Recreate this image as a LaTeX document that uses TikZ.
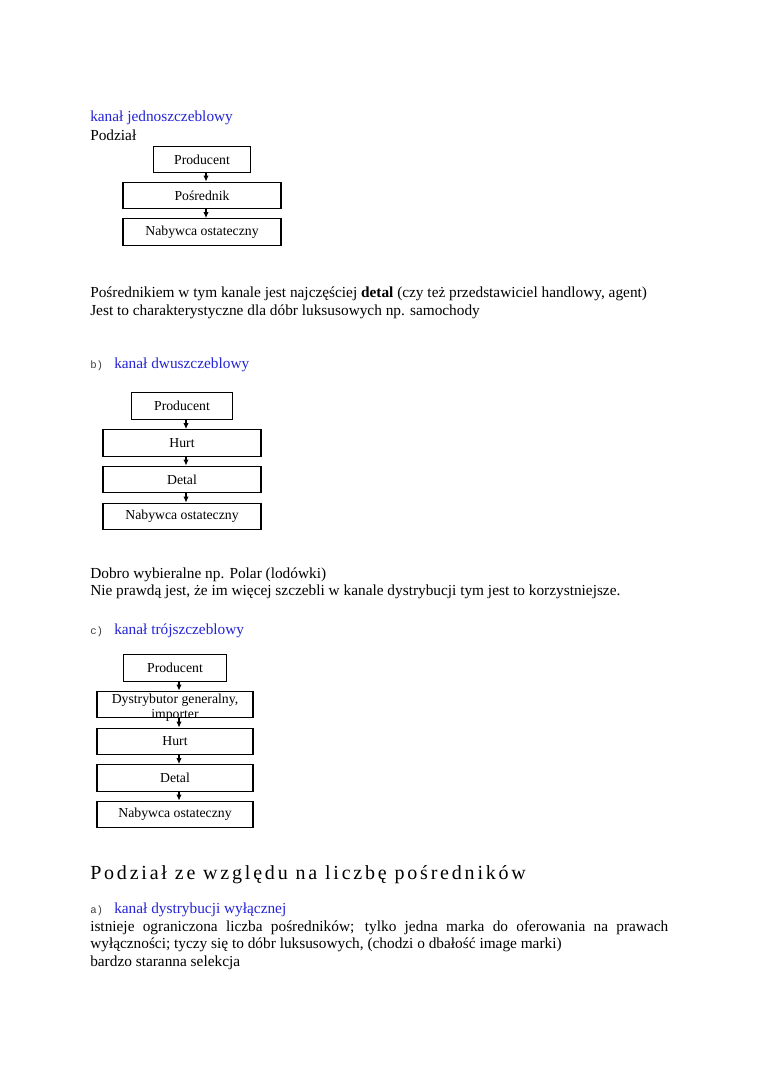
\documentclass[tikz,border=0pt]{standalone}
\usepackage{fontspec}
\setmainfont{Liberation Serif}
\setmonofont{Liberation Mono}
\usetikzlibrary{arrows.meta}
\definecolor{kanalblue}{RGB}{35,35,215}

\begin{document}
\begin{tikzpicture}[x=0.75pt, y=-0.75pt,
    txt/.style={anchor=base west, inner sep=0pt, font=\fontsize{11.5}{13}\selectfont},
    kanal/.style={txt, text=kanalblue},
    lit/.style={anchor=base west, inner sep=0pt, font=\ttfamily\fontsize{8}{9}\selectfont, text=black!75},
    box/.style={draw, line width=1pt, inner sep=0pt, minimum height=19.8pt, font=\fontsize{10.3}{11}\selectfont},
    flow/.style={-{Latex[length=4.5pt,width=4pt]}, line width=0.9pt}]
    \useasboundingbox (0,0) rectangle (760,1075);

    % Section a
    \node[kanal] (ka) at (90,121.7) {kanał jednoszczeblowy};
    \node[txt] (podz) at (90,140) {Podział};

    % Chain 1
    \node[box, minimum width=73pt] (prodA) at (202,159.5) {Producent};
    \node[box, minimum width=118.5pt] (posA) at (202,195.5) {Pośrednik};
    \node[box, minimum width=118.5pt] (nabA) at (202,232) {Nabywca ostateczny};
    \draw[flow] ([xshift=3pt]prodA.south) -- ([xshift=3pt]posA.north);
    \draw[flow] ([xshift=3pt]posA.south) -- ([xshift=3pt]nabA.north);

    \node[txt] (opisA) at (90,297.3) {Pośrednikiem w tym kanale jest najczęściej \textbf{detal} (czy też przedstawiciel handlowy, agent)};
    \node[txt] (opisB) at (90,315) {Jest to charakterystyczne dla dóbr luksusowych np. samochody};

    % Section b
    \node[lit] (lb) at (90,368) {b)};
    \node[kanal] (kb) at (114,368) {kanał dwuszczeblowy};

    % Chain 2
    \node[box, minimum width=76pt] (prodB) at (182,406) {Producent};
    \node[box, minimum width=118.5pt] (hurtB) at (182,443) {Hurt};
    \node[box, minimum width=118.5pt] (detB) at (182,479.5) {Detal};
    \node[box, minimum width=118.5pt] (nabB) at (182,516.5) {Nabywca ostateczny};
    \draw[flow] ([xshift=3pt]prodB.south) -- ([xshift=3pt]hurtB.north);
    \draw[flow] ([xshift=3pt]hurtB.south) -- ([xshift=3pt]detB.north);
    \draw[flow] ([xshift=3pt]detB.south) -- ([xshift=3pt]nabB.north);

    \node[txt] (opisC) at (90,578) {Dobro wybieralne np. Polar (lodówki)};
    \node[txt] (opisD) at (90,595.7) {Nie prawdą jest, że im więcej szczebli w kanale dystrybucji tym jest to korzystniejsze.};

    % Section c
    \node[lit] (lc) at (90,634) {c)};
    \node[kanal] (kc) at (114,634) {kanał trójszczeblowy};

    % Chain 3
    \node[box, minimum width=77pt] (prodC) at (175,668) {Producent};
    \node[box, minimum width=117pt] (dysC) at (175,704.5) {\smash{\raisebox{1.1pt}{\fontsize{10.3}{11.4}\selectfont\begin{tabular}[t]{@{}c@{}}Dystrybutor generalny,\\importer\end{tabular}}}};
    \node[box, minimum width=117pt] (hurtC) at (175,741.5) {Hurt};
    \node[box, minimum width=117pt] (detC) at (175,778) {Detal};
    \node[box, minimum width=117pt] (nabC) at (175,814.5) {Nabywca ostateczny};
    \draw[flow] ([xshift=3pt]prodC.south) -- ([xshift=3pt]dysC.north);
    \draw[flow] ([xshift=3pt]dysC.south) -- ([xshift=3pt]hurtC.north);
    \draw[flow] ([xshift=3pt]hurtC.south) -- ([xshift=3pt]detC.north);
    \draw[flow] ([xshift=3pt]detC.south) -- ([xshift=3pt]nabC.north);

    % Heading
    \node[anchor=base west, inner sep=0pt, font=\fontsize{15}{17}\selectfont\addfontfeatures{LetterSpace=14}] (head) at (90,879) {Podział ze względu na liczbę pośredników};

    % Section a (wylacznej)
    \node[lit] (la) at (90,913.3) {a)};
    \node[kanal] (kd) at (114,913.3) {kanał dystrybucji wyłącznej};
    \node[txt] (opisE) at (90,931) {\makebox[433.5pt][s]{istnieje ograniczona liczba pośredników; tylko jedna marka do oferowania na prawach}};
    \node[txt] (opisF) at (90,948.3) {wyłączności; tyczy się to dóbr luksusowych, (chodzi o dbałość image marki)};
    \node[txt] (opisG) at (90,966) {bardzo staranna selekcja};
\end{tikzpicture}
\end{document}
